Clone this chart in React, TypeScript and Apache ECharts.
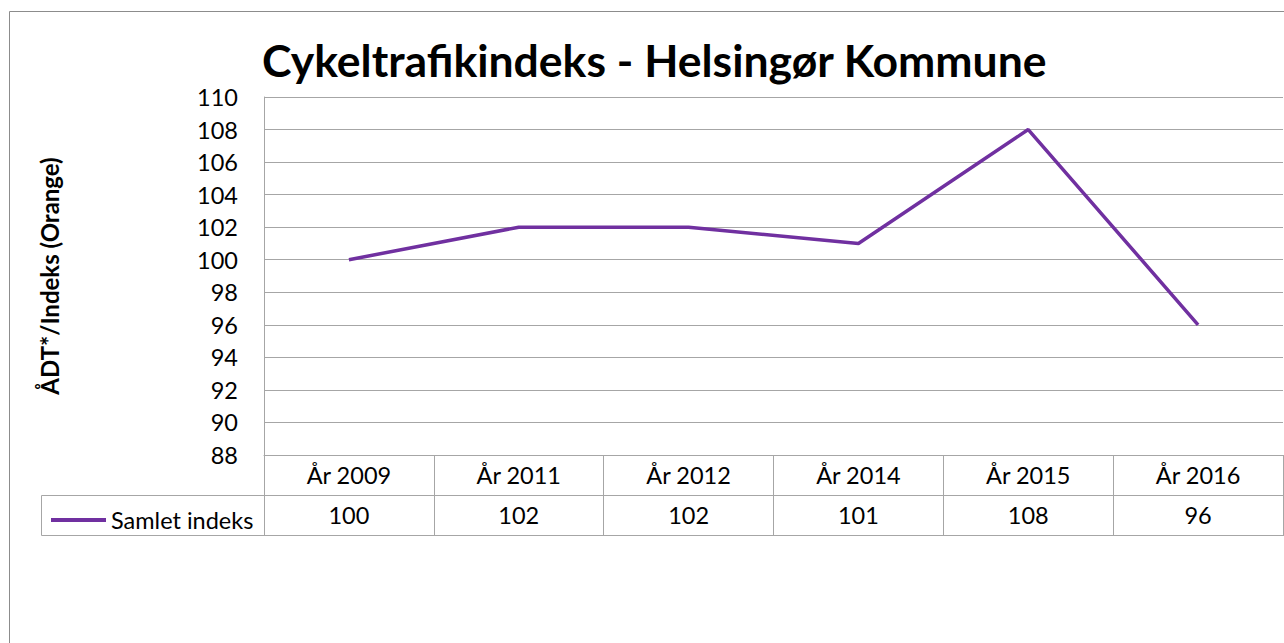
import React, { useEffect, useRef } from "react";
import * as echarts from "echarts";

const categories = ["År 2009", "År 2011", "År 2012", "År 2014", "År 2015", "År 2016"];
const values = [100, 102, 102, 101, 108, 96];
const seriesName = "Samlet indeks";
const titleText = "Cykeltrafikindeks - Helsingør Kommune";
const yAxisTitle = "ÅDT*/Indeks (Orange)";

const FONT = "Lato, 'Open Sans', sans-serif";
const GRID = "#a6a6a6";
const PURPLE = "#7030A0";
const FS = 23.5;

export default function App() {
  const ref = useRef<HTMLDivElement>(null);
  useEffect(() => {
    document.body.style.margin = "0";
    const chart = echarts.init(ref.current!, null, { renderer: "svg" });
    chart.setOption({
      animation: false,
      backgroundColor: "#fff",
      title: {
        text: titleText,
        left: 257,
        top: 32,
        textStyle: { fontFamily: FONT, fontWeight: "bold", fontSize: 44.5, color: "#000" },
      },
      legend: {
        left: 46,
        top: 503,
        itemWidth: 55,
        itemHeight: 4,
        icon: "rect",
        textStyle: { fontFamily: FONT, fontSize: FS, color: "#000" },
        data: [{ name: seriesName, icon: "rect" }],
      },
      grid: { left: 264, top: 97, width: 1019, height: 358, containLabel: false },
      xAxis: [
        {
          type: "category",
          data: categories,
          boundaryGap: true,
          axisLine: { show: true, lineStyle: { color: GRID, width: 1 } },
          axisTick: { show: true, length: 40, interval: 0, lineStyle: { color: GRID } },
          axisLabel: { show: true, margin: 8, fontFamily: FONT, fontSize: FS, color: "#000", interval: 0 },
        },
        {
          type: "category",
          position: "bottom",
          offset: 40,
          data: values.map((v) => String(v)),
          boundaryGap: true,
          axisLine: { show: true, lineStyle: { color: GRID, width: 1 } },
          axisTick: { show: true, length: 41, interval: 0, lineStyle: { color: GRID } },
          axisLabel: { show: true, margin: 8, fontFamily: FONT, fontSize: FS, color: "#000", interval: 0 },
        },
      ],
      yAxis: {
        type: "value",
        min: 88,
        max: 110,
        interval: 2,
        name: yAxisTitle,
        nameLocation: "middle",
        nameGap: 203,
        nameRotate: 90,
        nameTextStyle: { fontFamily: FONT, fontWeight: "bold", fontSize: 24, color: "#000" },
        axisLine: { show: true, lineStyle: { color: GRID, width: 1 } },
        axisTick: { show: false },
        axisLabel: { margin: 26, fontFamily: FONT, fontSize: FS, color: "#000" },
        splitLine: { show: true, lineStyle: { color: GRID, width: 1 } },
      },
      series: [
        {
          name: seriesName,
          type: "line",
          xAxisIndex: 0,
          data: values,
          symbol: "none",
          lineStyle: { color: PURPLE, width: 3.5 },
          itemStyle: { color: PURPLE },
        },
      ],
      graphic: [
        {
          type: "rect",
          shape: { x: 9.5, y: 11.5, width: 1300, height: 700 },
          style: { fill: "none", stroke: "#8c8c8c", lineWidth: 1 },
          silent: true,
        },
        {
          type: "rect",
          shape: { x: 41.5, y: 495.5, width: 1242, height: 40 },
          style: { fill: "none", stroke: GRID, lineWidth: 1 },
          silent: true,
        },
      ],
    });
    return () => chart.dispose();
  }, []);
  return <div ref={ref} style={{ width: 1284, height: 643 }} />;
}
